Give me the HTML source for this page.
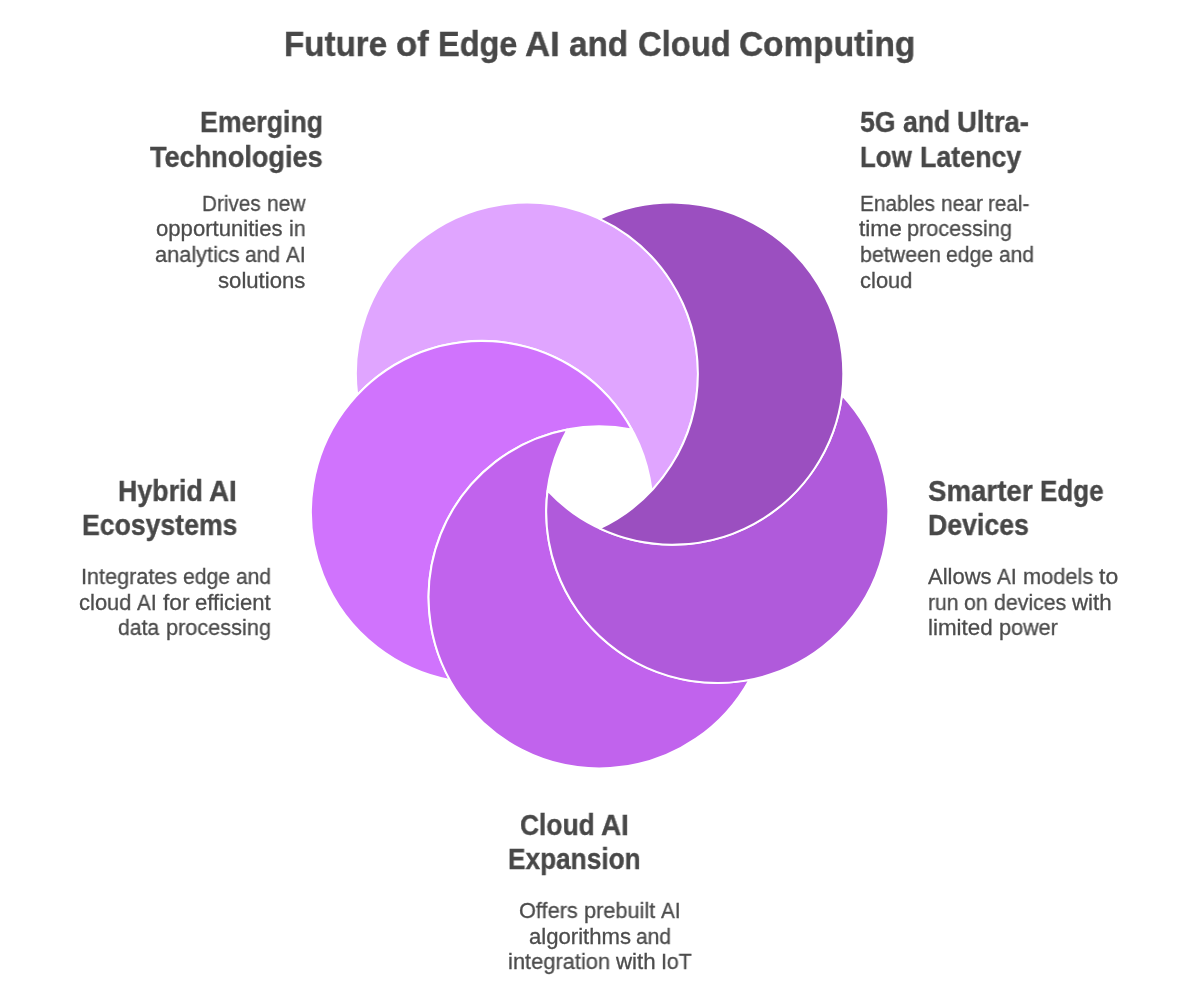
<!DOCTYPE html>
<html lang="en"><head><meta charset="utf-8"><title>Future of Edge AI and Cloud Computing</title>
<style>
html,body{margin:0;padding:0;background:#fff;}
body{width:1200px;height:1000px;position:relative;overflow:hidden;font-family:"Liberation Sans",sans-serif;}
.art{position:absolute;left:0;top:0;display:block;}
h1,h2,p{margin:0;padding:0;}
.w{position:absolute;white-space:nowrap;line-height:1;transform-origin:0 0;will-change:transform;}
.t{font-size:35.8px;font-weight:700;color:#484848;-webkit-text-stroke:0.4px #484848;}
.h{font-size:28.8px;font-weight:700;color:#484848;-webkit-text-stroke:0.35px #484848;}
.p{font-size:22.0px;font-weight:400;color:#4c4c4c;-webkit-text-stroke:0.3px #4c4c4c;}
</style></head>
<body>
<svg class="art" width="1200" height="1000" viewBox="0 0 1200 1000" aria-hidden="true">
<g stroke="#fff" stroke-width="2" stroke-linejoin="round">
<path fill="#e0a5ff" d="M357.23 394.95A171 171 0 1 1 651.62 490.60A171 171 0 0 0 357.23 394.95Z"/>
<path fill="#d073fd" d="M449.80 679.88A171 171 0 1 1 631.75 429.45A171 171 0 0 0 449.80 679.88Z"/>
<path fill="#c163ed" d="M749.40 679.88A171 171 0 1 1 567.45 429.45A171 171 0 0 0 749.40 679.88Z"/>
<path fill="#b05adb" d="M841.97 394.95A171 171 0 1 1 547.58 490.60A171 171 0 0 0 841.97 394.95Z"/>
<path fill="#9b4fc0" d="M599.60 218.85A171 171 0 1 1 599.60 528.40A171 171 0 0 0 599.60 218.85Z"/>
</g></svg>
<header id="title">
<h1 class="t">
<span class="w" style="left:283.66px;top:27.40px;transform:scaleX(0.9255)">Future</span> <span class="w" style="left:395.56px;top:27.40px;transform:scaleX(0.9741)">of</span> <span class="w" style="left:437.71px;top:27.40px;transform:scaleX(0.9068)">Edge</span> <span class="w" style="left:525.00px;top:27.40px;transform:scaleX(0.9714)">AI</span> <span class="w" style="left:569.28px;top:27.40px;transform:scaleX(0.9279)">and</span> <span class="w" style="left:637.53px;top:27.40px;transform:scaleX(0.9157)">Cloud</span> <span class="w" style="left:739.43px;top:27.40px;transform:scaleX(0.9332)">Computing</span>
</h1>
</header>
<section class="blk" id="b1">
<h2 class="h">
<span class="w" style="left:200.21px;top:108.20px;transform:scaleX(0.9263)">Emerging</span>
<span class="w" style="left:150.30px;top:142.60px;transform:scaleX(0.9408)">Technologies</span>
</h2>
<p class="p">
<span class="w" style="left:201.84px;top:192.70px;transform:scaleX(0.9424)">Drives</span> <span class="w" style="left:266.51px;top:192.70px;transform:scaleX(0.9546)">new</span>
<span class="w" style="left:156.21px;top:218.40px;transform:scaleX(1.0047)">opportunities</span> <span class="w" style="left:288.84px;top:218.40px;transform:scaleX(0.9696)">in</span>
<span class="w" style="left:154.52px;top:244.10px;transform:scaleX(0.9897)">analytics</span> <span class="w" style="left:245.18px;top:244.10px;transform:scaleX(0.9507)">and</span> <span class="w" style="left:286.02px;top:244.10px;transform:scaleX(0.9406)">AI</span>
<span class="w" style="left:218.16px;top:269.80px;transform:scaleX(1.0064)">solutions</span>
</p>
</section>
<section class="blk" id="b2">
<h2 class="h">
<span class="w" style="left:859.80px;top:108.20px;transform:scaleX(0.9245)">5G</span> <span class="w" style="left:902.84px;top:108.20px;transform:scaleX(0.9238)">and</span> <span class="w" style="left:957.43px;top:108.20px;transform:scaleX(0.9582)">Ultra-</span>
<span class="w" style="left:859.70px;top:142.60px;transform:scaleX(0.8995)">Low</span> <span class="w" style="left:919.53px;top:142.60px;transform:scaleX(0.9311)">Latency</span>
</h2>
<p class="p">
<span class="w" style="left:859.70px;top:192.70px;transform:scaleX(0.9427)">Enables</span> <span class="w" style="left:940.55px;top:192.70px;transform:scaleX(0.9514)">near</span> <span class="w" style="left:988.17px;top:192.70px;transform:scaleX(0.9386)">real-</span>
<span class="w" style="left:859.30px;top:218.40px;transform:scaleX(1.0306)">time</span> <span class="w" style="left:907.48px;top:218.40px;transform:scaleX(0.9858)">processing</span>
<span class="w" style="left:859.62px;top:244.10px;transform:scaleX(0.9727)">between</span> <span class="w" style="left:946.24px;top:244.10px;transform:scaleX(0.9608)">edge</span> <span class="w" style="left:998.76px;top:244.10px;transform:scaleX(0.9515)">and</span>
<span class="w" style="left:859.56px;top:269.80px;transform:scaleX(0.9969)">cloud</span>
</p>
</section>
<section class="blk" id="b3">
<h2 class="h">
<span class="w" style="left:117.85px;top:476.60px;transform:scaleX(0.9304)">Hybrid</span> <span class="w" style="left:209.26px;top:476.60px;transform:scaleX(0.9676)">AI</span>
<span class="w" style="left:82.04px;top:511.00px;transform:scaleX(0.9247)">Ecosystems</span>
</h2>
<p class="p">
<span class="w" style="left:81.41px;top:565.70px;transform:scaleX(0.9834)">Integrates</span> <span class="w" style="left:183.29px;top:565.70px;transform:scaleX(0.9608)">edge</span> <span class="w" style="left:235.84px;top:565.70px;transform:scaleX(0.9515)">and</span>
<span class="w" style="left:79.15px;top:591.50px;transform:scaleX(0.9969)">cloud</span> <span class="w" style="left:137.25px;top:591.50px;transform:scaleX(0.9406)">AI</span> <span class="w" style="left:162.69px;top:591.50px;transform:scaleX(1.0319)">for</span> <span class="w" style="left:194.74px;top:591.50px;transform:scaleX(1.0033)">efficient</span>
<span class="w" style="left:118.06px;top:617.30px;transform:scaleX(0.9627)">data</span> <span class="w" style="left:165.93px;top:617.30px;transform:scaleX(0.9863)">processing</span>
</p>
</section>
<section class="blk" id="b4">
<h2 class="h">
<span class="w" style="left:927.73px;top:476.60px;transform:scaleX(0.9614)">Smarter</span> <span class="w" style="left:1040.05px;top:476.60px;transform:scaleX(0.9025)">Edge</span>
<span class="w" style="left:928.15px;top:511.00px;transform:scaleX(0.9277)">Devices</span>
</h2>
<p class="p">
<span class="w" style="left:928.09px;top:565.70px;transform:scaleX(0.9997)">Allows</span> <span class="w" style="left:997.44px;top:565.70px;transform:scaleX(0.9406)">AI</span> <span class="w" style="left:1022.60px;top:565.70px;transform:scaleX(0.9903)">models</span> <span class="w" style="left:1098.63px;top:565.70px;transform:scaleX(1.0440)">to</span>
<span class="w" style="left:928.12px;top:591.50px;transform:scaleX(0.9602)">run</span> <span class="w" style="left:964.42px;top:591.50px;transform:scaleX(0.9669)">on</span> <span class="w" style="left:993.93px;top:591.50px;transform:scaleX(0.9694)">devices</span> <span class="w" style="left:1072.25px;top:591.50px;transform:scaleX(1.0135)">with</span>
<span class="w" style="left:928.21px;top:617.30px;transform:scaleX(1.0168)">limited</span> <span class="w" style="left:998.55px;top:617.30px;transform:scaleX(0.9830)">power</span>
</p>
</section>
<section class="blk" id="b5">
<h2 class="h">
<span class="w" style="left:519.69px;top:810.70px;transform:scaleX(0.9151)">Cloud</span> <span class="w" style="left:600.89px;top:810.70px;transform:scaleX(0.9694)">AI</span>
<span class="w" style="left:508.17px;top:845.10px;transform:scaleX(0.9108)">Expansion</span>
</h2>
<p class="p">
<span class="w" style="left:519.29px;top:899.70px;transform:scaleX(0.9879)">Offers</span> <span class="w" style="left:583.92px;top:899.70px;transform:scaleX(0.9880)">prebuilt</span> <span class="w" style="left:661.24px;top:899.70px;transform:scaleX(0.9393)">AI</span>
<span class="w" style="left:528.51px;top:925.50px;transform:scaleX(1.0047)">algorithms</span> <span class="w" style="left:636.48px;top:925.50px;transform:scaleX(0.9515)">and</span>
<span class="w" style="left:508.00px;top:951.30px;transform:scaleX(0.9937)">integration</span> <span class="w" style="left:616.10px;top:951.30px;transform:scaleX(1.0138)">with</span> <span class="w" style="left:661.22px;top:951.30px;transform:scaleX(0.9703)">IoT</span>
</p>
</section>
</body></html>
